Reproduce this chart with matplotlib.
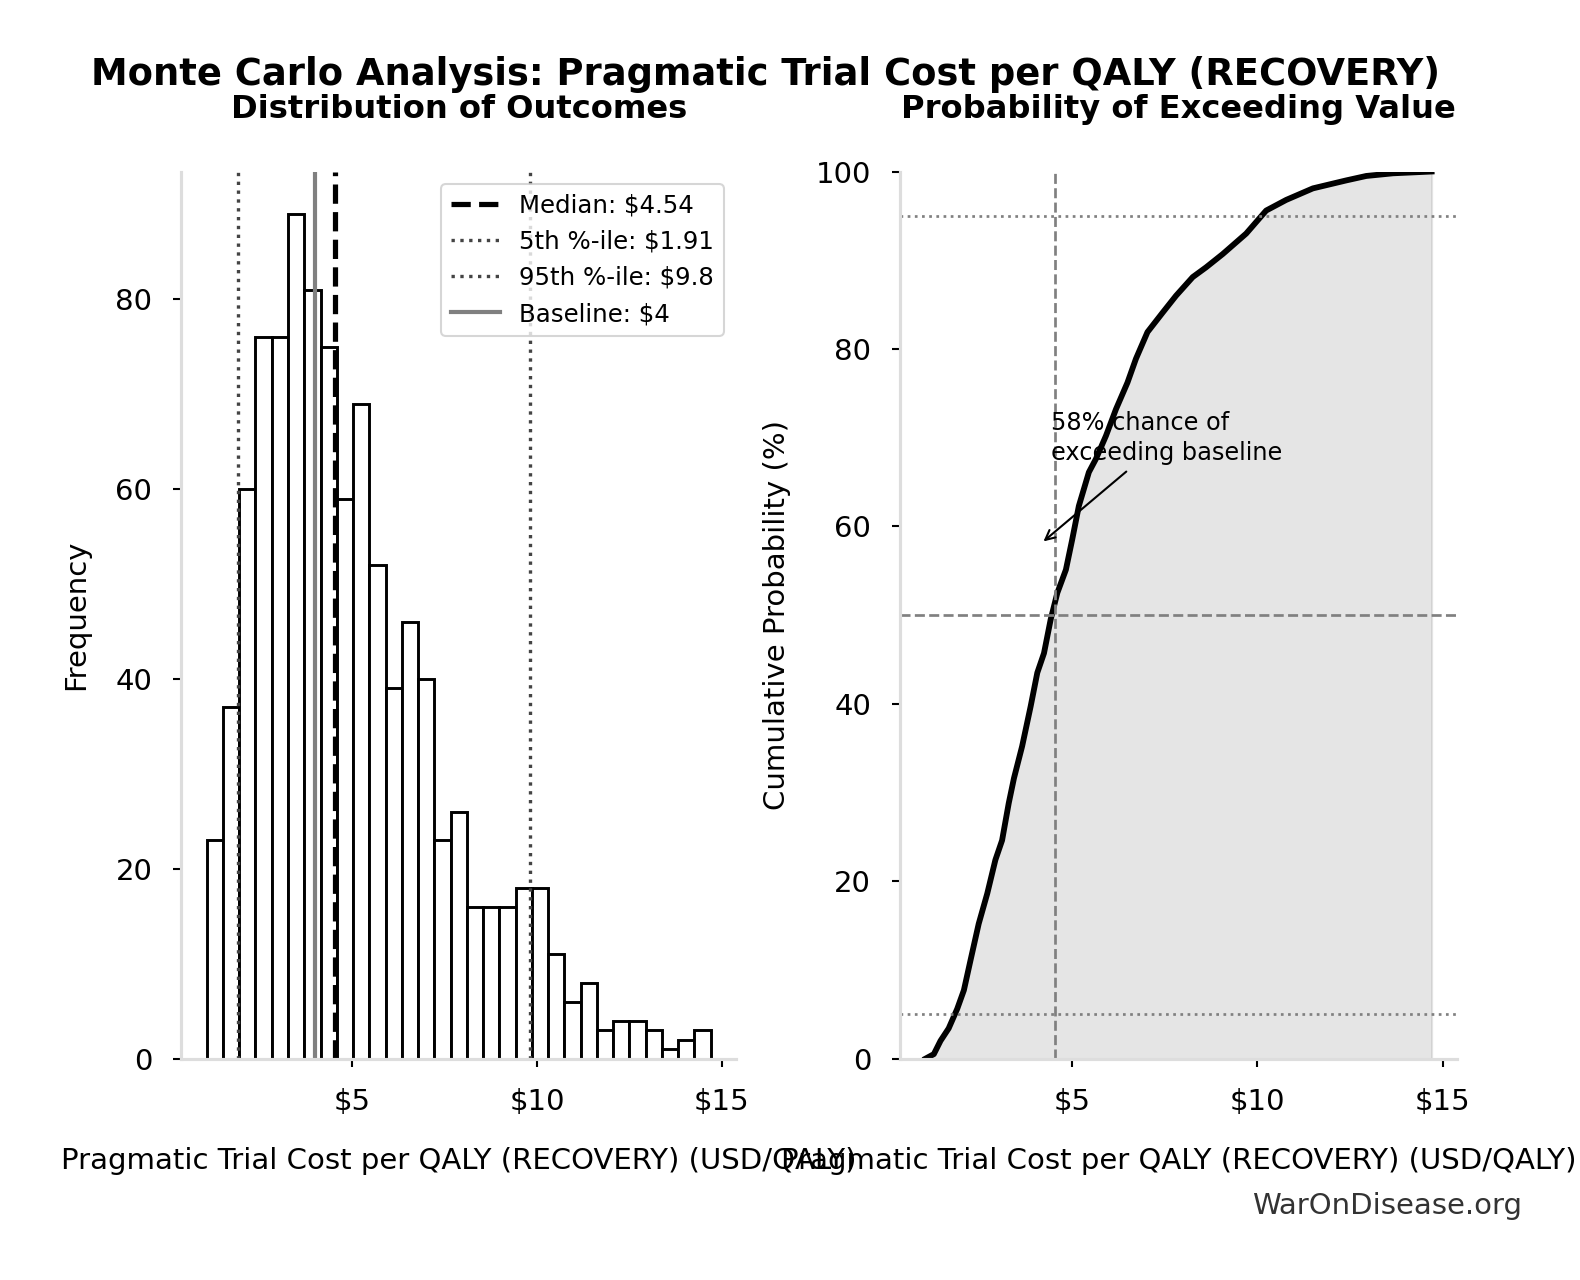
import numpy as np
import matplotlib
matplotlib.use("Agg")
import matplotlib.pyplot as plt
from matplotlib.ticker import FuncFormatter

# histogram counts (31 bins)
hist_counts = [23, 37, 60, 76, 76, 89, 81, 75, 59, 69, 52, 39, 46, 40, 23, 26,
               16, 16, 16, 18, 18, 11, 6, 8, 3, 4, 4, 3, 1, 2, 3]
bin_lo = 1.06
bin_hi = 14.70

# cumulative curve
cdf_x = [1.06, 1.28, 1.46, 1.68, 1.91, 2.09, 2.27, 2.49, 2.72, 2.94, 3.12, 3.30,
         3.44, 3.66, 3.89, 4.07, 4.25, 4.43, 4.61, 4.84, 5.01, 5.19, 5.46, 5.65,
         5.92, 6.19, 6.50, 6.73, 7.04, 7.45, 7.81, 8.26, 8.62, 9.07, 9.70, 10.24,
         10.78, 11.50, 12.40, 12.94, 13.66, 14.70]
cdf_y = [0.0, 0.5, 2.0, 3.4, 5.6, 7.7, 11.1, 15.2, 18.6, 22.4, 24.6, 28.8,
         31.6, 35.2, 39.7, 43.5, 45.7, 49.5, 52.5, 55.1, 58.5, 62.3, 66.1, 67.6,
         70.2, 73.2, 76.2, 78.9, 81.9, 84.1, 86.0, 88.1, 89.2, 90.7, 93.0, 95.6,
         96.8, 98.1, 99.0, 99.5, 99.8, 100.0]

median = 4.54
p5 = 1.91
p95 = 9.8
baseline = 4
exceed_pct = 58

xlabel = "Pragmatic Trial Cost per QALY (RECOVERY) (USD/QALY)"

fig = plt.figure(figsize=(1581 / 150, 1280 / 150), dpi=150)
ax1 = fig.add_axes([0.1148, 0.173, 0.3507, 0.693])
ax2 = fig.add_axes([0.5695, 0.173, 0.352, 0.693])

dollar = FuncFormatter(lambda v, p: "${:g}".format(v))

# left: histogram
edges = np.linspace(bin_lo, bin_hi, len(hist_counts) + 1)
ax1.hist(edges[:-1], bins=edges, weights=hist_counts, facecolor="white",
         edgecolor="black", linewidth=1.4)
ax1.axvline(median, color="black", linestyle="--", linewidth=2.5,
            label="Median: ${:g}".format(median))
ax1.axvline(p5, color="#444444", linestyle=":", linewidth=1.6,
            label="5th %-ile: ${:g}".format(p5))
ax1.axvline(p95, color="#444444", linestyle=":", linewidth=1.6,
            label="95th %-ile: ${:g}".format(p95))
ax1.axvline(baseline, color="gray", linestyle="-", linewidth=2,
            label="Baseline: ${:g}".format(baseline))
ax1.set_ylabel("Frequency", fontsize=14, labelpad=12)
ax1.set_xlabel(xlabel, fontsize=14, labelpad=15)
ax1.set_title("Distribution of Outcomes", fontsize=15.4, fontweight="bold", pad=25.5)
ax1.legend(loc="upper right", fontsize=11.7)

# right: cumulative probability
ax2.plot(cdf_x, cdf_y, color="black", linewidth=2.8)
ax2.fill_between(cdf_x, cdf_y, color="gray", alpha=0.2)
ax2.axvline(median, color="gray", linestyle="--", linewidth=1.3)
ax2.axhline(50, color="gray", linestyle="--", linewidth=1.3)
ax2.axhline(5, color="gray", linestyle=":", linewidth=1.3)
ax2.axhline(95, color="gray", linestyle=":", linewidth=1.3)
ax2.set_ylim(0, 100)
ax2.set_ylabel("Cumulative Probability (%)", fontsize=14, labelpad=12)
ax2.set_xlabel(xlabel, fontsize=14, labelpad=15)
ax2.set_title("Probability of Exceeding Value", fontsize=15.4, fontweight="bold", pad=25.5)
ax2.annotate("{}% chance of\nexceeding baseline".format(exceed_pct),
             xy=(4.15, 58), xytext=(4.43, 73.0), fontsize=11.5, va="top",
             linespacing=1.3,
             arrowprops=dict(arrowstyle="->", color="black", lw=1))

for ax in (ax1, ax2):
    ax.xaxis.set_major_formatter(dollar)
    ax.set_xticks([5, 10, 15])
    for s in ("top", "right"):
        ax.spines[s].set_visible(False)
    for s in ("left", "bottom"):
        ax.spines[s].set_color("#dddddd")
        ax.spines[s].set_linewidth(1.5)
    ax.tick_params(labelsize=14, length=4, width=1, pad=10)

fig.suptitle("Monte Carlo Analysis: Pragmatic Trial Cost per QALY (RECOVERY)",
             fontsize=17.7, fontweight="bold", x=0.484, y=0.956)
fig.text(0.963, 0.058, "WarOnDisease.org", fontsize=14, color="#333333",
         ha="right", va="center")

fig.savefig("out.png", dpi=150)
